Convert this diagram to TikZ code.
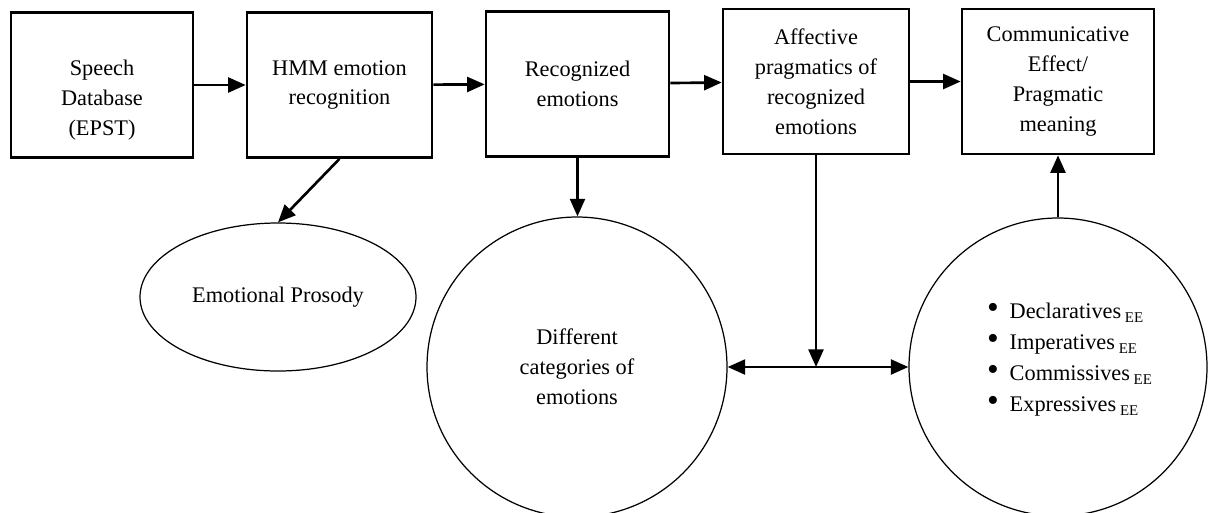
\documentclass[tikz,border=0pt]{standalone}
\usepackage{fontspec}
\setmainfont{Liberation Serif}
\usepackage{tikz}
\usetikzlibrary{arrows.meta,shapes.geometric}

\newcommand{\eesub}{\,\raisebox{-2pt}{\fontsize{8.5}{10}\selectfont EE}}
\newcommand{\itm}{\makebox[0.45cm][l]{\scalebox{1.5}{\textbullet}}}

\tikzset{
  box/.style={draw=black,line width=1.5pt,minimum height=2.9cm,align=center,inner sep=0pt},
  ring/.style={draw=black,line width=0.7pt,align=center},
  arr/.style={line width=1.5pt,-{Triangle[length=10pt,width=8.5pt]}}
}

\begin{document}
\begin{tikzpicture}[font=\fontsize{12.7}{17}\selectfont]
\useasboundingbox (0,0) rectangle (24.16,-10.24);
\node[box,minimum width=3.64cm] (B1) at (2.04,-1.70) {~\\[9pt]Speech\\Database\\(EPST)};
\node[box,minimum width=3.70cm] (B2) at (6.79,-1.70) {HMM emotion\\recognition};
\node[box,minimum width=3.66cm] (B3) at (11.55,-1.68) {Recognized\\emotions};
\node[box,minimum width=3.72cm] (B4) at (16.32,-1.63) {Affective\\pragmatics of\\recognized\\emotions};
\node[box,minimum width=3.84cm] (B5) at (21.16,-1.63) {Communicative\\Effect/\\Pragmatic\\meaning};

\node[ring,ellipse,minimum width=5.52cm,minimum height=2.96cm] (E1) at (5.56,-5.94) {Emotional Prosody};
\node[ring,circle,minimum size=6.0cm] (C1) at (11.54,-7.34) {Different\\categories of\\emotions};
\node[ring,circle,minimum size=5.96cm] (C2) at (21.16,-7.34) {};
\node[align=left,anchor=west,font=\fontsize{12.7}{17.6}\selectfont] (L) at (19.62,-7.20)
  {\itm Declaratives\eesub\\\itm Imperatives\eesub\\\itm Commissives\eesub\\\itm Expressives\eesub};

\draw[arr] (B1)--(B2);
\draw[arr] (B2)--(B3);
\draw[arr] (B3)--(B4);
\draw[arr] (B4)--(B5);
\draw[arr] (B2.south)--(E1.north);
\draw[arr] (B3.south)--(B3.south |- C1.north);
\coordinate (J) at (B4.south |- C1.east);
\draw[line width=1.5pt,{Triangle[length=10pt,width=8.5pt]}-{Triangle[length=10pt,width=8.5pt]}] (C1.east)--(C2.west);
\draw[arr] (B4.south)--(J);
\draw[arr] (C2.north)--(B5.south);
\end{tikzpicture}
\end{document}
